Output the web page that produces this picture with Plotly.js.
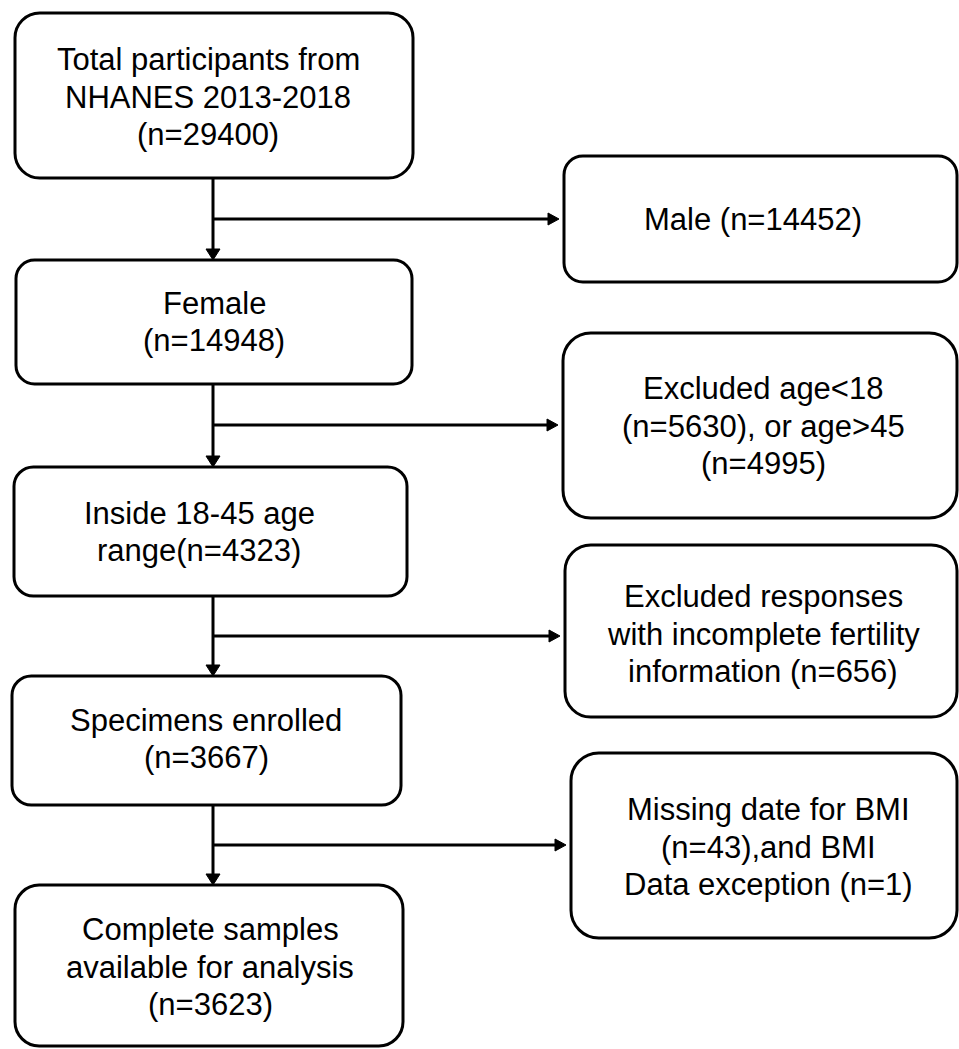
<!DOCTYPE html>
<html>
<head>
<meta charset="utf-8">
<script src="https://cdn.plot.ly/plotly-3.0.1.min.js"></script>
<style>html,body{margin:0;padding:0;background:#fff;}#chart{width:959px;height:1049px;}</style>
</head>
<body>
<div id="chart"></div>
<script>
// ---- Data (flow labels and counts) ----
const leftSteps = ["Total participants from|NHANES 2013-2018", "Female", "Inside 18-45 age|range", "Specimens enrolled", "Complete samples|available for analysis"];
const leftCounts = [29400, 14948, 4323, 3667, 3623];
const leftCountOnNewLine = [true, true, false, true, true];
const rightTexts = [
  "Male (n=14452)",
  "Excluded age<18|(n=5630), or age>45|(n=4995)",
  "Excluded responses|with incomplete fertility|information (n=656)",
  "Missing date for BMI|(n=43),and BMI|Data exception (n=1)"
];

// ---- Layout geometry (pixels, kept separate from data) ----
const leftBoxes = [[15,413,13,178],[16,412,260,384],[14,407,467,596],[12,401,676,805],[15,403,885,1046]];
const rightBoxes = [[564,957,156,282],[563,957,333,518],[565,957,545,717],[571,957,753,938]];
const leftTextX = [208, 214, 199, 206, 210];
const rightTextX = [753, 763, 763, 768];
const leftTextY = [97, 322, 532, 739, 967];
const rightTextY = [219, 426, 634, 847];
const branchY = [219,425,636,845];
const stemX = 213;
const LW = 3, HEAD_L = 11, HEAD_W = 7, LINE_H = 37.5;
const FONT = {family: "Liberation Sans, Arial, sans-serif", size: 31, color: "#000"};

function roundRect(b){
  const [x0,x1,y0,y1] = b;
  const r = 0.15*Math.min(x1-x0, y1-y0), k = r*0.448;
  return `M${x0+r},${y0} L${x1-r},${y0} C${x1-k},${y0} ${x1},${y0+k} ${x1},${y0+r} ` +
         `L${x1},${y1-r} C${x1},${y1-k} ${x1-k},${y1} ${x1-r},${y1} ` +
         `L${x0+r},${y1} C${x0+k},${y1} ${x0},${y1-k} ${x0},${y1-r} ` +
         `L${x0},${y0+r} C${x0},${y0+k} ${x0+k},${y0} ${x0+r},${y0} Z`;
}

const shapes = [];
const annotations = [];
const line = {color:"#000", width: LW};

function addText(lines, cx, cy){
  const n = lines.length;
  lines.forEach((t,k)=>{
    annotations.push({x:cx, y:cy + (k-(n-1)/2)*LINE_H, xref:"x", yref:"y", showarrow:false,
      text:t, font:FONT, xanchor:"center", yanchor:"middle"});
  });
}

leftBoxes.forEach((b,i)=>{
  shapes.push({type:"path", xref:"x", yref:"y", path: roundRect(b), line, fillcolor:"rgba(0,0,0,0)"});
  const lines = leftSteps[i].split("|");
  const cnt = "(n=" + leftCounts[i] + ")";
  if (leftCountOnNewLine[i]) lines.push(cnt); else lines[lines.length-1] += cnt;
  addText(lines, leftTextX[i], leftTextY[i]);
});
rightBoxes.forEach((b,i)=>{
  shapes.push({type:"path", xref:"x", yref:"y", path: roundRect(b), line, fillcolor:"rgba(0,0,0,0)"});
  addText(rightTexts[i].split("|"), rightTextX[i], rightTextY[i]);
});

// connectors with arrowheads
for (let i=0;i<leftBoxes.length-1;i++){
  const yTop = leftBoxes[i][3], yBot = leftBoxes[i+1][2];
  shapes.push({type:"line", xref:"x", yref:"y", x0:stemX, x1:stemX, y0:yTop, y1:yBot-HEAD_L+1, line});
  shapes.push({type:"path", xref:"x", yref:"y", path:`M${stemX-HEAD_W},${yBot-HEAD_L} L${stemX+HEAD_W},${yBot-HEAD_L} L${stemX},${yBot} Z`, fillcolor:"#000", line:{color:"#000", width:1}});
  const y = branchY[i], xEnd = rightBoxes[i][0] - 5;
  shapes.push({type:"line", xref:"x", yref:"y", x0:stemX, x1:xEnd-HEAD_L+1, y0:y, y1:y, line});
  shapes.push({type:"path", xref:"x", yref:"y", path:`M${xEnd-HEAD_L},${y-HEAD_W+1} L${xEnd-HEAD_L},${y+HEAD_W-1} L${xEnd},${y} Z`, fillcolor:"#000", line:{color:"#000", width:1}});
}

const layout = {
  width:959, height:1049,
  margin:{l:0,r:0,t:0,b:0},
  paper_bgcolor:"#fff", plot_bgcolor:"#fff",
  xaxis:{range:[0,959], visible:false, fixedrange:true},
  yaxis:{range:[1049,0], visible:false, fixedrange:true},
  showlegend:false,
  shapes, annotations
};
Plotly.newPlot("chart", [{x:[], y:[], type:"scatter", mode:"markers", hoverinfo:"skip"}], layout, {staticPlot:true, displayModeBar:false});
</script>
</body>
</html>
